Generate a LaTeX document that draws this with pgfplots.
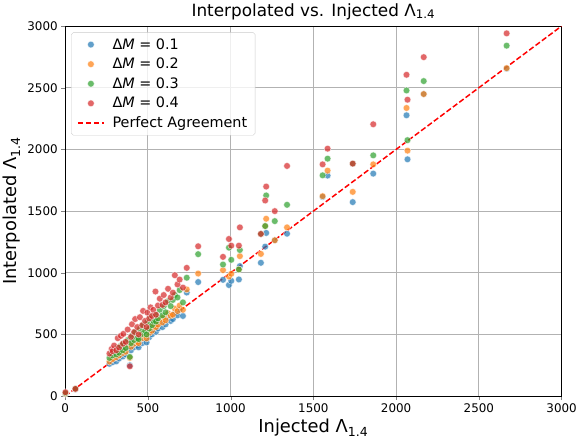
\documentclass[border=0pt]{standalone}
\usepackage{fontspec}
\setmainfont{DejaVu Sans}
\usepackage{pgfplots}
\pgfplotsset{compat=1.18}
\definecolor{cblue}{HTML}{1F77B4}
\definecolor{corange}{HTML}{FF7F0E}
\definecolor{cgreen}{HTML}{2CA02C}
\definecolor{cred}{HTML}{D62728}

% injected vs interpolated, one table per Delta M
\pgfplotstableread{
x y
2 20
62 55
268 262
281 290
287 275
296 318
309 282
318 326
326 305
337 345
349 322
352 372
366 338
378 392
391 250
398 372
404 420
417 398
423 452
436 411
444 396
452 468
466 430
471 488
483 462
492 436
497 512
508 478
516 545
525 502
533 530
546 575
549 522
561 548
572 590
588 560
596 612
607 582
622 636
638 610
651 625
663 672
679 655
692 700
712 650
735 840
804 925
954 943
990 901
1004 935
1050 946
1056 1054
1183 1081
1209 1212
1215 1323
1267 1264
1341 1317
1556 1615
1586 1788
1738 1573
1862 1804
2063 2277
2069 1920
2167 2449
2668 2655
}\dmone
\pgfplotstableread{
x y
2 20
62 58
268 280
281 305
287 300
296 335
309 315
318 350
326 330
337 372
349 350
352 395
366 360
378 418
391 310
398 400
404 445
417 425
423 470
436 440
444 430
452 492
466 470
471 515
483 490
492 468
497 540
508 512
516 572
525 530
533 560
546 605
549 560
561 580
572 625
588 598
596 640
607 615
622 672
638 652
651 660
663 710
679 690
692 735
712 700
735 865
804 994
954 1022
990 970
1004 992
1050 1027
1056 1135
1183 1153
1209 1379
1215 1438
1267 1264
1341 1368
1556 1621
1586 1828
1738 1656
1862 1879
2063 2336
2069 1990
2167 2449
2668 2659
}\dmtwo
\pgfplotstableread{
x y
2 25
62 60
268 310
281 345
287 330
296 360
309 338
318 395
326 352
337 410
349 372
352 428
366 390
378 455
391 318
398 430
404 490
417 455
423 520
436 470
444 462
452 545
466 505
471 578
483 530
492 500
497 600
508 548
516 640
525 575
533 610
546 660
549 605
561 630
572 700
588 655
596 730
607 680
622 770
638 730
651 780
663 820
679 800
692 860
712 760
735 960
804 1151
954 1067
990 1204
1004 1105
1050 1027
1056 1185
1183 1315
1209 1379
1215 1627
1267 1419
1341 1551
1556 1790
1586 1925
1738 1885
1862 1952
2063 2478
2069 2075
2167 2554
2668 2841
}\dmthree
\pgfplotstableread{
x y
2 32
62 59
268 345
281 382
287 365
296 410
309 372
318 470
326 395
337 489
349 425
352 505
366 440
378 540
391 242
398 480
404 583
417 520
423 625
436 560
444 500
452 640
466 575
471 691
483 610
492 560
497 677
508 630
516 720
525 650
533 700
546 848
549 660
561 735
572 790
588 740
596 820
607 760
622 870
638 800
651 839
663 980
679 906
692 945
712 880
735 1040
804 1215
954 1129
990 1274
1004 1220
1050 1220
1056 1368
1183 1315
1209 1586
1215 1699
1267 1500
1341 1866
1556 1879
1586 2006
1738 1885
1862 2204
2063 2605
2069 2403
2167 2748
2668 2941
}\dmfour

\begin{document}
\begin{tikzpicture}
\begin{axis}[
    scale only axis,
    width=499bp, height=372bp,
    xmin=0, xmax=3000, ymin=0, ymax=3000,
    xtick={0,500,...,3000}, ytick={0,500,...,3000},
    /pgf/number format/assume math mode=true,
    /pgf/number format/1000 sep={},
    tick label style={font=\fontsize{12}{14}\selectfont},
    tick align=outside, tick pos=left,
    major tick length=4bp,
    grid=major,
    grid style={color=black!30, line width=0.8pt},
    axis line style={line width=0.8pt},
    title={Interpolated vs. Injected Λ\textsubscript{1.4}},
    title style={font=\fontsize{17}{20}\selectfont, yshift=-3bp},
    xlabel={Injected Λ\textsubscript{1.4}},
    ylabel={Interpolated Λ\textsubscript{1.4}},
    label style={font=\fontsize{18}{21}\selectfont},
    legend style={at={(0.012,0.983)}, anchor=north west,
        draw=black!20, rounded corners=2pt, fill=white, fill opacity=0.8,
        text opacity=1, font=\fontsize{14.5}{17}\selectfont,
        row sep=3.5pt, inner xsep=6pt, inner ysep=4pt,
        /tikz/every odd column/.append style={column sep=6pt}},
    legend cell align=left,
    legend image code/.code={%
        \draw[mark repeat=2, mark phase=2, #1]
            plot coordinates {(0bp,0bp) (13bp,0bp) (26bp,0bp)};},
    every axis plot/.append style={only marks, mark=*, mark size=3.4pt},
]
\addplot[mark options={fill=cblue, draw=white, line width=0.5pt, opacity=0.7}] table {\dmone};
\addlegendentry{Δ\textit{M} = 0.1}
\addplot[mark options={fill=corange, draw=white, line width=0.5pt, opacity=0.7}] table {\dmtwo};
\addlegendentry{Δ\textit{M} = 0.2}
\addplot[mark options={fill=cgreen, draw=white, line width=0.5pt, opacity=0.7}] table {\dmthree};
\addlegendentry{Δ\textit{M} = 0.3}
\addplot[mark options={fill=cred, draw=white, line width=0.5pt, opacity=0.7}] table {\dmfour};
\addlegendentry{Δ\textit{M} = 0.4}
\addplot[red, dashed, line width=1.5pt, no marks, sharp plot, dash pattern=on 5.5pt off 2.5pt] coordinates {(0,0) (3000,3000)};
\addlegendentry{Perfect Agreement}
\end{axis}
\end{tikzpicture}
\end{document}
